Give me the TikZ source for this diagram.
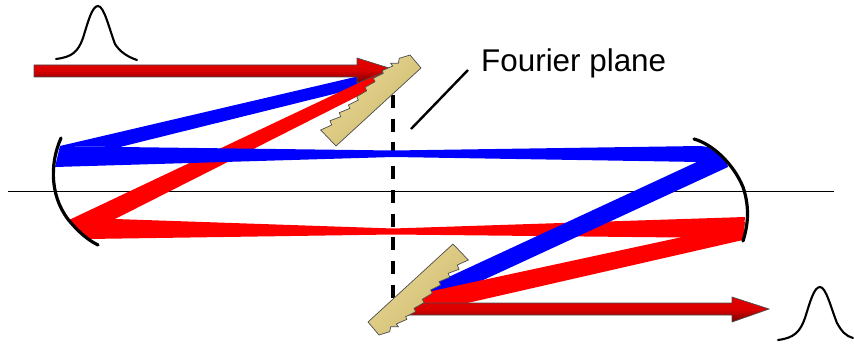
\documentclass[tikz,border=0pt]{standalone}
\usepackage{xcolor}
\usepackage{fontspec}
\setmainfont{Liberation Sans}
\usetikzlibrary{shapes,arrows,positioning}

\definecolor{beamblue}{RGB}{0,0,255}
\definecolor{beamred}{RGB}{255,0,0}
\definecolor{tanlight}{RGB}{234,217,150}
\definecolor{tandark}{RGB}{205,185,110}

\begin{document}
\begin{tikzpicture}[
    x=1pt, y=-1pt,
    axis/.style={draw=black, line width=1pt},
    mirror/.style={draw=black, line width=3.2pt, line cap=round},
    pulse/.style={draw=black, line width=2.1pt, line cap=round},
    blue beam/.style={fill=beamblue, draw=none},
    red beam/.style={fill=beamred, draw=none},
    arrow/.style={draw=black!70, line width=0.7pt, top color=red!90!black, bottom color=red!45!black, middle color=red!85!black},
    grating/.style={draw=black!70, line width=0.7pt, left color=tanlight, right color=tandark, shading angle=45}
]
    \useasboundingbox (0,0) rectangle (854,345);

    % Optical axis and Fourier plane
    \draw[axis] (8,191) -- (834,191);
    \draw[line width=3.6pt, dash pattern=on 13pt off 10.7pt] (393,95) -- (393,298);

    % First pass
    \fill[blue beam] (60,146) -- (385,70) -- (378,83) -- (120,147) -- cycle;
    \fill[red beam] (69,219) -- (115,219) -- (393,228.5) -- (745,217) -- (743,240)
        -- (680,237.5) -- (393,234.5) -- (88,239) -- cycle;
    \fill[red beam] (69,220) -- (384,71) -- (372,89) -- (115,219) -- cycle;

    % Second pass
    \fill[blue beam] (60,146) -- (120,147) -- (393,150.5) -- (700,146) -- (708,147) -- (726,160) -- (728,167)
        -- (700,162) -- (393,157) -- (55,167) -- cycle;
    \fill[blue beam] (700,160.5) -- (425,288) -- (440,300) -- (728,167) -- (722,155) -- cycle;
    \fill[red beam] (680,237.5) -- (745,222) -- (743,240) -- (463,304) -- (412,304) -- (423,293) -- cycle;

    % Arrows
    \shade[arrow] (34,65) -- (357,65) -- (357,58) -- (392,69) -- (357,83) -- (357,77) -- (34,77) -- cycle;
    \shade[arrow] (407,303) -- (732,303) -- (732,297) -- (769,309) -- (732,322) -- (732,315) -- (407,315) -- cycle;

    % Gratings
    \newcommand{\gratingbody}{(421,68) -- (336,146) -- (320.7,130) -- (331.7,125) -- (330,120.7)
        -- (340.7,116.7) -- (339.3,112.7) -- (350,108.3) -- (348.3,105) -- (358.3,100)
        -- (356.7,96.7) -- (366.7,90.7) -- (365,87.3) -- (375,81.7) -- (373.3,78.3)
        -- (383.3,73.3) -- (382,70.7) -- (392.7,66) -- (390.7,63.3) -- (398.3,63.3)
        -- (399.3,58.3) -- (410,55) -- cycle}
    \shade[grating] \gratingbody;
    \shade[grating, shift={(789,390)}, rotate=180] \gratingbody;

    % Mirrors
    \draw[mirror] (61,138) .. controls (49,165) and (50,200) .. (72,224) .. controls (80,233) and (88,240) .. (98,245);
    \draw[mirror] (694,139) .. controls (712,144) and (733,163) .. (743,187) .. controls (749,205) and (749,222) .. (743,241);

    % Pulses
    \draw[pulse] (56,59) .. controls (72,57) and (78,52) .. (83,38) .. controls (88,22) and (92,6) .. (98,6)
        .. controls (104,6) and (109,28) .. (115,44) .. controls (120,52) and (128,57) .. (137,60);
    \draw[pulse] (778,340) .. controls (794,338) and (800,332) .. (805,318) .. controls (810,302) and (814,287) .. (820,287)
        .. controls (826,287) and (831,308) .. (837,323) .. controls (842,332) and (846,336) .. (853,338);

    % Label
    \node[anchor=base west, inner sep=0pt, font=\fontsize{31.4}{36}\selectfont] (fourier) at (481,72) {Fourier plane};
    \coordinate (leaderfoot) at (411,129);
    \coordinate (leaderhead) at (468,70);
    \draw[black, line width=2.4pt] (leaderfoot) -- (leaderhead);

\end{tikzpicture}
\end{document}
